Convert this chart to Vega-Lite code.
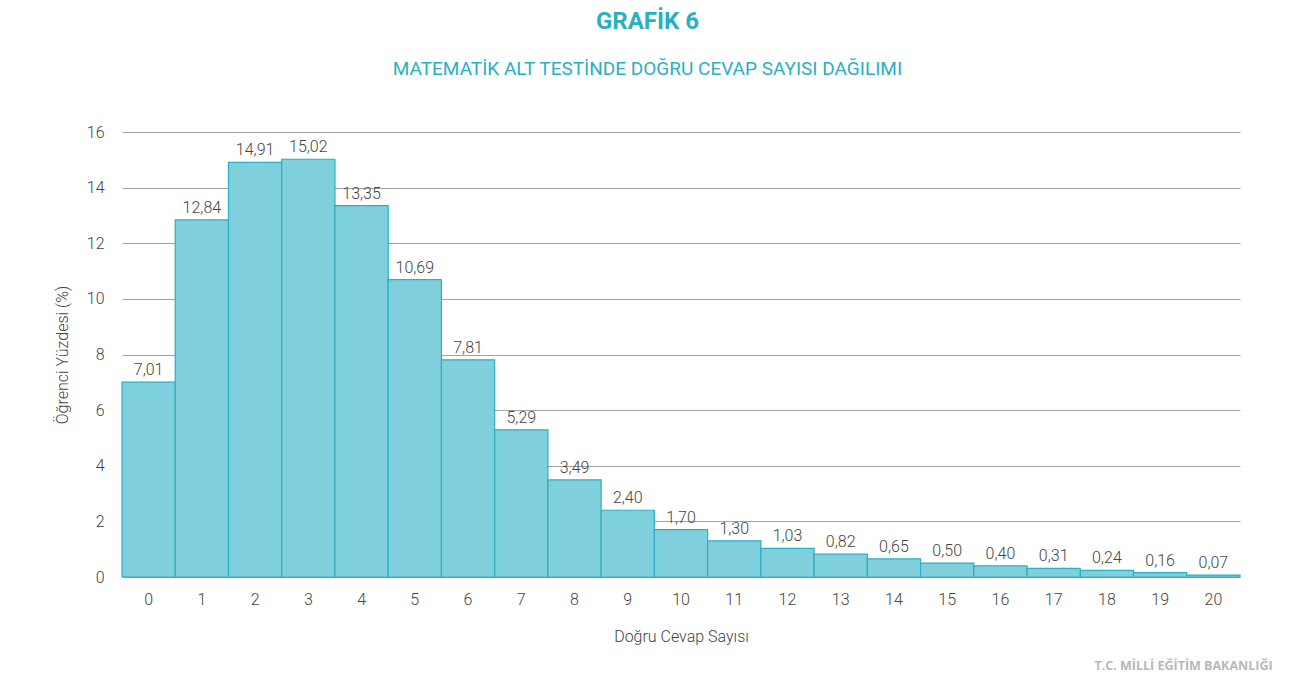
{
  "$schema": "https://vega.github.io/schema/vega-lite/v6.json",
  "background": "white",
  "padding": {"left": 54, "top": 10, "right": 10, "bottom": 10},
  "title": {
    "text": "T.C. MİLLİ EĞİTİM BAKANLIĞI",
    "orient": "bottom",
    "anchor": "end",
    "font": "Open Sans",
    "fontSize": 12.5,
    "fontWeight": "bold",
    "color": "#b8b8b8",
    "offset": 16,
    "dx": 32
  },
  "config": {
    "locale": {"number": {"decimal": ",", "thousands": ".", "grouping": [3], "currency": ["", " TL"]}},
    "font": "Roboto",
    "view": {"stroke": null},
    "axis": {"labelFont": "Roboto", "labelFontWeight": 300, "labelColor": "#444444", "labelFontSize": 16, "titleFont": "Roboto", "titleFontWeight": 300, "titleColor": "#444444", "titleFontSize": 16}
  },
  "vconcat": [
    {
      "width": 1118,
      "height": 445,
      "title": {
        "text": "GRAFİK 6",
        "subtitle": "MATEMATİK ALT TESTİNDE DOĞRU CEVAP SAYISI DAĞILIMI",
        "anchor": "middle",
        "frame": "bounds",
        "font": "Roboto",
        "fontSize": 24,
        "fontWeight": "bold",
        "color": "#2aafc4",
        "subtitleFont": "Roboto",
        "subtitleFontSize": 19,
        "subtitleColor": "#2aafc4",
        "subtitlePadding": 26,
        "offset": 45
      },
      "data": {
        "values": [
          {"dogru": 0, "yuzde": 7.01},
          {"dogru": 1, "yuzde": 12.84},
          {"dogru": 2, "yuzde": 14.91},
          {"dogru": 3, "yuzde": 15.02},
          {"dogru": 4, "yuzde": 13.35},
          {"dogru": 5, "yuzde": 10.69},
          {"dogru": 6, "yuzde": 7.81},
          {"dogru": 7, "yuzde": 5.29},
          {"dogru": 8, "yuzde": 3.49},
          {"dogru": 9, "yuzde": 2.40},
          {"dogru": 10, "yuzde": 1.70},
          {"dogru": 11, "yuzde": 1.30},
          {"dogru": 12, "yuzde": 1.03},
          {"dogru": 13, "yuzde": 0.82},
          {"dogru": 14, "yuzde": 0.65},
          {"dogru": 15, "yuzde": 0.50},
          {"dogru": 16, "yuzde": 0.40},
          {"dogru": 17, "yuzde": 0.31},
          {"dogru": 18, "yuzde": 0.24},
          {"dogru": 19, "yuzde": 0.16},
          {"dogru": 20, "yuzde": 0.07}
        ]
      },
      "encoding": {
        "x": {
          "field": "dogru",
          "type": "ordinal",
          "sort": null,
          "scale": {"paddingInner": 0, "paddingOuter": 0},
          "axis": {"title": "Doğru Cevap Sayısı", "labelAngle": 0, "domain": false, "ticks": false, "labelPadding": 14, "titlePadding": 21}
        },
        "y": {
          "field": "yuzde",
          "type": "quantitative",
          "scale": {"domain": [0, 16]},
          "axis": {"title": "Öğrenci Yüzdesi (%)", "values": [0, 2, 4, 6, 8, 10, 12, 14, 16], "domain": false, "ticks": false, "labelPadding": 18, "titlePadding": 16, "gridColor": "#a3a3a3", "gridWidth": 1}
        }
      },
      "layer": [
        {"mark": {"type": "bar", "fill": "#7fd0dc", "stroke": "#2aafc4", "strokeWidth": 1.2}},
        {
          "mark": {"type": "text", "baseline": "bottom", "dy": -4, "fontSize": 16, "fontWeight": 300, "color": "#444444", "font": "Roboto"},
          "encoding": {"text": {"field": "yuzde", "type": "quantitative", "format": ".2f"}}
        }
      ]
    }
  ]
}
